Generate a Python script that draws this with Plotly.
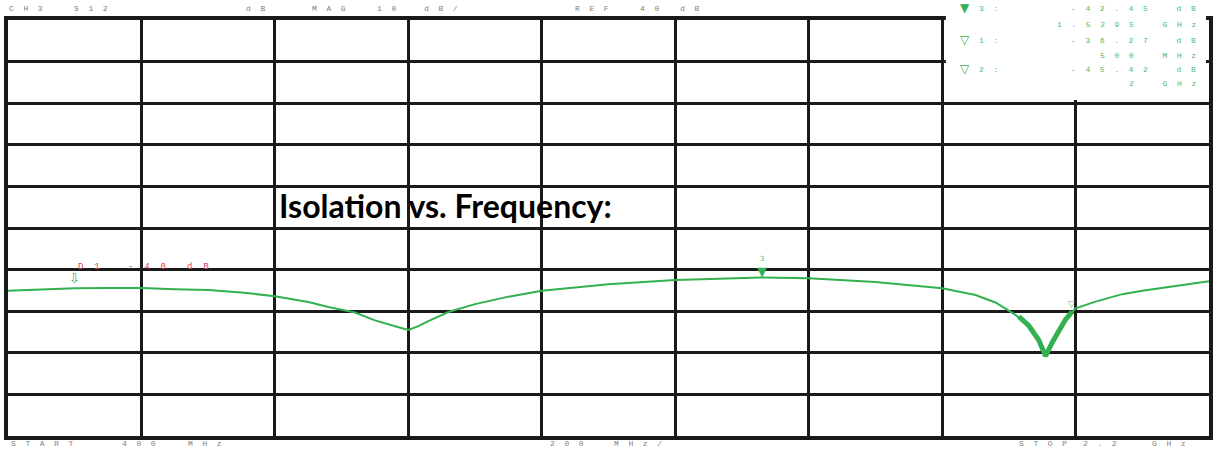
import numpy as np
import plotly.graph_objects as go

# ---- data ----
freq_mhz = [400, 450, 500, 550, 600, 650, 700, 750, 800, 850, 880, 920, 950, 980,
            1000, 1015, 1030, 1060, 1100, 1150, 1200, 1300, 1400, 1530, 1600, 1700,
            1800, 1850, 1880, 1910, 1930, 1945, 1955, 1965, 1975, 1985, 2000, 2030,
            2070, 2100, 2150, 2200]
isolation_db = [-45.1, -44.8, -44.5, -44.4, -44.4, -44.7, -44.9, -45.5, -46.4, -47.8,
                -49.0, -50.3, -52.2, -53.6, -54.5, -53.6, -52.4, -50.2, -48.3, -46.5,
                -45.1, -43.5, -42.5, -41.9, -42.1, -43.0, -44.5, -46.1, -47.9, -50.9,
                -53.5, -57.0, -60.8, -57.5, -54.5, -52.0, -49.3, -47.7, -45.9, -45.1,
                -43.9, -42.8]
notch_freq = [1915, 1930, 1945, 1955, 1965, 1975, 1985, 1995]
notch_db = [-51.3, -53.5, -57.0, -60.8, -57.5, -54.5, -52.0, -50.1]

marker_freqs = [500, 1529.5, 2000]
marker_names = ["1", "3", "2"]
readouts = [("▼", "3:", "-42.45 dB", "1.5295 GHz"),
            ("▽", "1:", "-36.27 dB", "500 MHz"),
            ("▽", "2:", "-45.42 dB", "2 GHz")]

x_start, x_stop, x_div = 400, 2200, 200
y_top, y_bottom, y_div = 20, -80, 10

title_text = "Isolation vs. Frequency:"

# ---- layout helpers (pixel -> paper) ----
L, R, T, B = 8, 1213, 20, 436
def px(x):
    return (x - L) / (R - L)
def py(y):
    return (B - y) / (B - T)

NB = "\u00a0"
def sp(s):
    out = []
    for c in s:
        out.append(NB * 2 if c == " " else c)
    return (NB * 2).join(out)

GRAY = "#7e7e7e"
GREEN = "#33b04f"
LGREEN = "#4fb96c"
RED = "#e0405e"
MONO = "Liberation Mono, DejaVu Sans Mono, monospace"

fig = go.Figure()
fig.add_trace(go.Scatter(x=freq_mhz, y=isolation_db, mode="lines",
                         line=dict(color=GREEN, width=2), hoverinfo="skip",
                         showlegend=False))
fig.add_trace(go.Scatter(x=notch_freq, y=notch_db, mode="lines",
                         line=dict(color=GREEN, width=5), hoverinfo="skip",
                         showlegend=False))

ann = []
def word(text, x, y, color=GRAY, size=8, anchor="left"):
    ann.append(dict(text=sp(text), x=px(x), y=py(y), xref="paper", yref="paper",
                    xanchor=anchor, yanchor="middle", showarrow=False,
                    font=dict(family=MONO, size=size, color=color)))

for t, x in [("CH3", 7), ("S12", 72), ("dB", 245), ("MAG", 311), ("10", 376),
             ("dB/", 423), ("REF", 575), ("40", 640), ("dB", 680)]:
    word(t, x, 9)
for t, x in [("START", 9), ("400", 120), ("MHz", 187), ("200", 550), ("MHz/", 614),
             ("STOP", 1020), ("2.2", 1085), ("GHz", 1154)]:
    word(t, x, 443)
for t, x in [("D1", 76), ("-40", 126), ("dB", 186)]:
    word(t, x, 267, color=RED, size=9)

rows_y = [8, 25, 40, 55, 69, 83]
for i, (sym, lab, val, fq) in enumerate(readouts):
    y1, y2 = rows_y[2 * i], rows_y[2 * i + 1]
    ann.append(dict(text=sym, x=px(961), y=py(y1), xref="paper", yref="paper",
                    xanchor="left", yanchor="middle", showarrow=False,
                    font=dict(family="DejaVu Sans", size=12, color=GREEN)))
    word(lab, 980, y1, color=LGREEN)
    word(val, 1202, y1, color=LGREEN, anchor="right")
    word(fq, 1202, y2, color=LGREEN, anchor="right")

# markers on the trace
m_vals = np.interp(marker_freqs, freq_mhz, isolation_db)
ann.append(dict(text="⇩", x=marker_freqs[0], y=m_vals[0], xref="x", yref="y",
                yanchor="bottom", showarrow=False, yshift=0,
                font=dict(family="DejaVu Sans", size=13, color=GREEN)))
ann.append(dict(text="▼", x=marker_freqs[1], y=m_vals[1], xref="x", yref="y",
                yanchor="bottom", showarrow=False, yshift=-3,
                font=dict(family="DejaVu Sans", size=13, color=GREEN)))
ann.append(dict(text=marker_names[1], x=marker_freqs[1], y=m_vals[1], xref="x", yref="y",
                yanchor="bottom", showarrow=False, yshift=13,
                font=dict(family="DejaVu Sans", size=7, color=LGREEN)))
ann.append(dict(text="▽", x=marker_freqs[2], y=m_vals[2], xref="x", yref="y",
                yanchor="middle", showarrow=False, xshift=-4, yshift=4,
                font=dict(family="DejaVu Sans", size=9, color=LGREEN)))

ann.append(dict(text="<b>" + title_text + "</b>", x=px(278), y=py(205),
                xref="paper", yref="paper", xanchor="left", yanchor="middle",
                showarrow=False,
                font=dict(family="Lato, Liberation Sans", size=32, color="#000000")))

fig.update_layout(
    width=1220, height=451,
    margin=dict(l=L, r=1220 - R, t=T, b=451 - B),
    paper_bgcolor="white", plot_bgcolor="white",
    showlegend=False,
    annotations=ann,
    shapes=[dict(type="rect", xref="paper", yref="paper",
                 x0=px(949), x1=px(1210), y0=py(100), y1=py(0),
                 fillcolor="white", line=dict(width=0), layer="above")],
    xaxis=dict(range=[x_start, x_stop], dtick=x_div, tick0=x_start,
               showgrid=True, gridcolor="#1a1a1a", gridwidth=3,
               showticklabels=False, ticks="", zeroline=False,
               showline=True, mirror=True, linecolor="#1a1a1a", linewidth=4),
    xaxis2=dict(range=[x_start, x_stop], overlaying="x", tickvals=[600, 1000, 2000],
                showgrid=True, gridcolor="#1a1a1a", gridwidth=5,
                showticklabels=False, ticks="", zeroline=False, showline=False),
    yaxis=dict(range=[y_bottom, y_top], dtick=y_div, tick0=y_bottom,
               showgrid=True, gridcolor="#1a1a1a", gridwidth=2.5,
               showticklabels=False, ticks="", zeroline=False,
               showline=True, mirror=True, linecolor="#1a1a1a", linewidth=4),
)

fig.write_html("out.html",
               config={"displayModeBar": False},
               post_script="document.body.style.margin='0px';"
                           "document.body.style.overflow='hidden';")
